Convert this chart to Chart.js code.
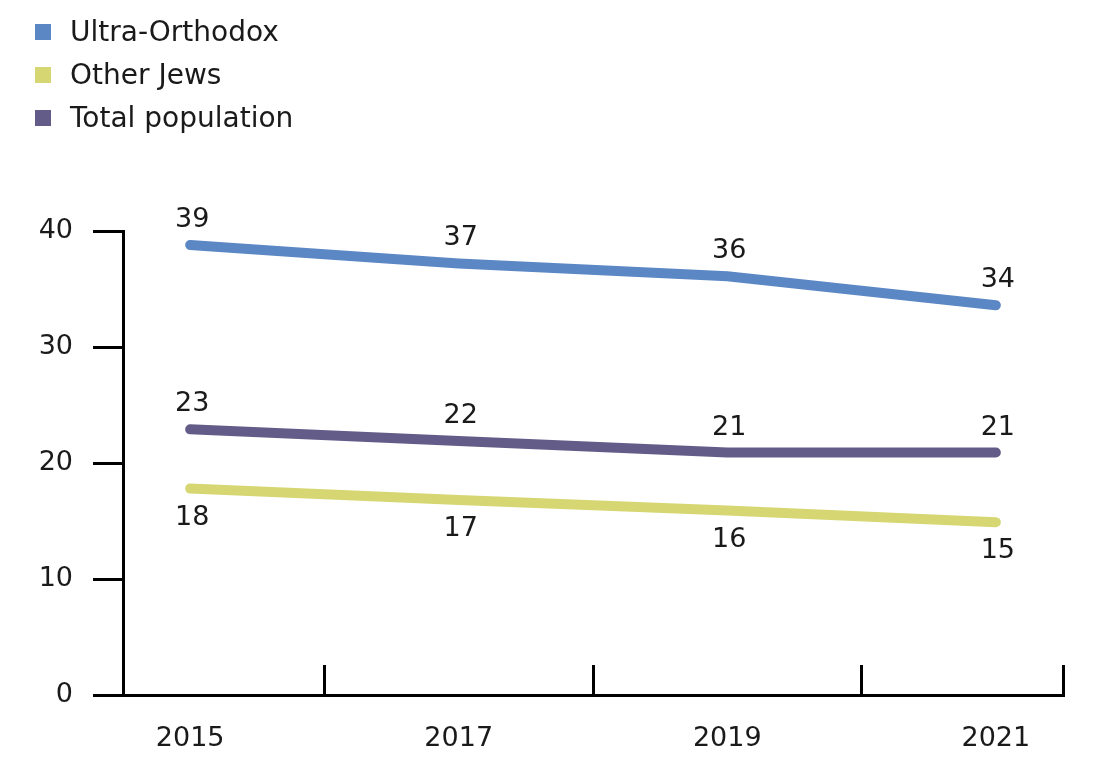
<!DOCTYPE html>
<html lang="en">
<head>
<meta charset="utf-8">
<title>Ultra-Orthodox, Other Jews, Total population</title>
<script src="https://cdn.jsdelivr.net/npm/chart.js"></script>
<style>
  html, body { margin: 0; padding: 0; background: #fff; }
  #wrap { width: 1100px; height: 772px; position: relative; }
</style>
</head>
<body>
<div id="wrap"><canvas id="myChart"></canvas></div>
<script>
// data
const years = [2015, 2017, 2019, 2021];
const ultraOrthodox = [38.8, 37.2, 36.1, 33.6];
const otherJews = [17.8, 16.8, 15.9, 14.9];
const totalPop = [22.9, 21.9, 20.9, 20.9];
const yTicks = [0, 10, 20, 30, 40];
const xMarks = [2016, 2018, 2020, 2021.5]; // little marks on the x axis

const FONT = '"DejaVu Sans", "Noto Sans", sans-serif';
const INK = '#1a1a1a';

function toPoints(vals) {
    return years.map((y, i) => ({ x: y, y: vals[i] }));
}

// value labels above / below each point
const valueLabels = {
    id: 'valueLabels',
    afterDatasetsDraw(chart) {
        const ctx = chart.ctx;
        ctx.save();
        ctx.font = '27px ' + FONT;
        ctx.fillStyle = INK;
        ctx.textAlign = 'center';
        ctx.textBaseline = 'middle';
        chart.data.datasets.forEach((ds, di) => {
            const meta = chart.getDatasetMeta(di);
            meta.data.forEach((pt, i) => {
                const v = Math.round(ds.data[i].y);
                const dy = ds.labelPos === 'below' ? 29 : -25;
                ctx.fillText(v, pt.x + 2, pt.y + dy);
            });
        });
        ctx.restore();
    }
};

// legend stacked in the top left corner
const stackedLegend = {
    id: 'stackedLegend',
    afterDraw(chart) {
        const ctx = chart.ctx;
        ctx.save();
        ctx.font = '28px ' + FONT;
        ctx.textBaseline = 'middle';
        chart.data.datasets.forEach((ds, i) => {
            const cy = 32 + i * 43;
            ctx.fillStyle = ds.borderColor;
            ctx.fillRect(35, cy - 8, 16, 16);
            ctx.fillStyle = INK;
            ctx.fillText(ds.label, 70, cy + 2);
        });
        ctx.restore();
    }
};

const ctx = document.getElementById('myChart').getContext('2d');
const myChart = new Chart(ctx, {
    type: 'line',
    data: {
        datasets: [{
            label: 'Ultra-Orthodox',
            data: toPoints(ultraOrthodox),
            borderColor: '#5b87c5',
            backgroundColor: '#5b87c5',
            labelPos: 'above'
        }, {
            label: 'Other Jews',
            data: toPoints(otherJews),
            borderColor: '#d6d772',
            backgroundColor: '#d6d772',
            labelPos: 'below'
        }, {
            label: 'Total population',
            data: toPoints(totalPop),
            borderColor: '#635c89',
            backgroundColor: '#635c89',
            labelPos: 'above'
        }]
    },
    options: {
        responsive: true,
        maintainAspectRatio: false,
        animation: false,
        layout: { padding: { left: 0, right: 37, top: 231, bottom: 0 } },
        elements: {
            line: { borderWidth: 10, tension: 0, borderCapStyle: 'round', borderJoinStyle: 'round' },
            point: { radius: 0, hoverRadius: 0 }
        },
        plugins: {
            legend: { display: false },
            tooltip: { enabled: false }
        },
        scales: {
            x: {
                type: 'linear',
                min: 2014.5,
                max: 2021.5,
                afterBuildTicks(scale) {
                    scale.ticks = years.concat(xMarks).sort((a, b) => a - b).map(v => ({ value: v }));
                },
                afterFit(scale) {
                    scale.height = 77;
                    scale.paddingLeft = 0;
                    scale.paddingRight = 0;
                },
                border: { display: true, color: '#000', width: 3 },
                grid: {
                    drawOnChartArea: false,
                    drawTicks: true,
                    tickLength: -30,
                    lineWidth: 3,
                    color: c => (xMarks.includes(c.tick.value) ? '#000' : 'rgba(0,0,0,0)')
                },
                ticks: {
                    autoSkip: false,
                    maxRotation: 0,
                    padding: 58,
                    color: INK,
                    font: { family: FONT, size: 27 },
                    callback: v => (years.includes(v) ? String(v) : '')
                }
            },
            y: {
                min: 0,
                max: 40,
                afterBuildTicks(scale) {
                    scale.ticks = yTicks.map(v => ({ value: v }));
                },
                afterFit(scale) { scale.width = 123; },
                border: { display: true, color: '#000', width: 3 },
                grid: {
                    drawOnChartArea: false,
                    drawTicks: true,
                    tickLength: 30,
                    lineWidth: 3,
                    color: '#000'
                },
                ticks: {
                    padding: 20,
                    color: INK,
                    font: { family: FONT, size: 27 }
                }
            }
        }
    },
    plugins: [valueLabels, stackedLegend]
});
</script>
</body>
</html>
